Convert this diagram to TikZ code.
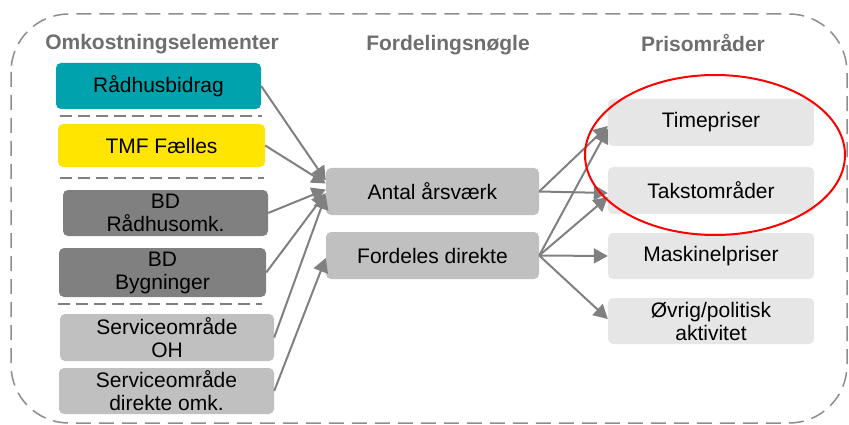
\documentclass[tikz,border=0pt]{standalone}
\usepackage{fontspec}
\setmainfont{Liberation Sans}
\usetikzlibrary{arrows.meta,calc,shapes.geometric}
\definecolor{teal1}{HTML}{00A3AD}
\definecolor{yell1}{HTML}{FFE500}
\definecolor{dgray}{HTML}{808080}
\definecolor{lgray}{HTML}{C0C0C0}
\definecolor{xlgray}{HTML}{E6E6E6}
\definecolor{hdr}{HTML}{6E6E6E}
\definecolor{linec}{HTML}{808080}
\tikzset{
  box/.style={rounded corners=5pt, draw=none, align=center, inner sep=0pt,
    font=\fontsize{21}{23}\selectfont, text=black},
  hdrtext/.style={font=\fontsize{21}{23}\selectfont\bfseries, text=hdr, anchor=base},
  sep/.style={draw=dgray, line width=1.5pt, dash pattern=on 12pt off 6pt},
  arr/.style={draw=linec, line width=2pt, -{Triangle[length=14pt,width=15pt]}},
}
\begin{document}
\begin{tikzpicture}[x=1pt,y=-1pt]
\useasboundingbox (0,0) rectangle (849,425);
% outer dashed frame
\draw[draw=dgray!90, line width=1.5pt, dash pattern=on 15pt off 8pt, rounded corners=58pt]
  (11,14) rectangle (847,423);
% headers
\node[hdrtext] (h1) at (162,50) {Omkostningselementer};
\node[hdrtext] (h2) at (448,51) {Fordelingsnøgle};
\node[hdrtext] (h3) at (703,52) {Prisområder};
% left boxes
\node[box, fill=teal1, minimum width=205pt, minimum height=46pt] (rb) at (158.5,86) {Rådhusbidrag};
\node[box, fill=yell1, minimum width=207pt, minimum height=43pt] (tmf) at (161.5,145.5) {TMF Fælles};
\node[box, fill=dgray, minimum width=205pt, minimum height=46pt] (bdr) at (165.5,213) {BD\\Rådhusomk.};
\node[box, fill=dgray, minimum width=207pt, minimum height=49pt] (bdb) at (162.5,272.5) {BD\\Bygninger};
\node[box, fill=lgray, minimum width=214pt, minimum height=47pt] (so) at (167,337.5) {Serviceområde\\OH};
\node[box, fill=lgray, minimum width=215pt, minimum height=46pt] (sd) at (166.5,391) {Serviceområde\\direkte omk.};
% separators
\coordinate (s1a) at (60,116); \coordinate (s1b) at (262,116);
\coordinate (s2a) at (60,178); \coordinate (s2b) at (264,178);
\coordinate (s3a) at (58,304); \coordinate (s3b) at (262,304);
\draw[sep] (s1a) -- (s1b);
\draw[sep] (s2a) -- (s2b);
\draw[sep] (s3a) -- (s3b);
% middle boxes
\node[box, fill=lgray, minimum width=213pt, minimum height=47pt] (antal) at (432.5,191.5) {Antal årsværk};
\node[box, fill=lgray, minimum width=213pt, minimum height=47pt] (ford) at (432.5,255.5) {Fordeles direkte};
% right boxes
\node[box, fill=xlgray, minimum width=206pt, minimum height=47pt] (tp) at (711,122.5) {Timepriser};
\node[box, fill=xlgray, minimum width=206pt, minimum height=47pt] (tk) at (711,190.5) {Takstområder};
\node[box, fill=xlgray, minimum width=206pt, minimum height=46pt] (mp) at (711,256) {Maskinelpriser};
\node[box, fill=xlgray, minimum width=206pt, minimum height=46pt] (ov) at (711,321) {Øvrig/politisk\\aktivitet};
% arrows left
\draw[arr] (rb.east) -- ([yshift=11pt]antal.west);
\draw[arr] (tmf.east) -- ([yshift=8pt]antal.west);
\draw[arr] (bdr.east) -- ([yshift=2pt]antal.west);
\draw[arr] (bdb.east) -- ([yshift=-1.5pt]antal.west);
\draw[arr] (so.east) -- ([yshift=-3.5pt]antal.west);
\draw[arr] (sd.east) -- ([yshift=-2.5pt]ford.west);
% arrows right
\draw[arr] (antal.east) -- ([yshift=-3.5pt]tp.west);
\draw[arr] (antal.east) -- ([yshift=-2.5pt]tk.west);
\draw[arr] (ford.east) -- ([yshift=-6.5pt]tp.west);
\draw[arr] (ford.east) -- ([yshift=-6.5pt]tk.west);
\draw[arr] (ford.east) -- (mp.west);
\draw[arr] (ford.east) -- ([yshift=2pt]ov.west);
% red ellipse
\node[draw=red, line width=2pt, ellipse, minimum width=260pt, minimum height=160pt, inner sep=0pt] (ell) at (715,155) {};
\end{tikzpicture}
\end{document}
